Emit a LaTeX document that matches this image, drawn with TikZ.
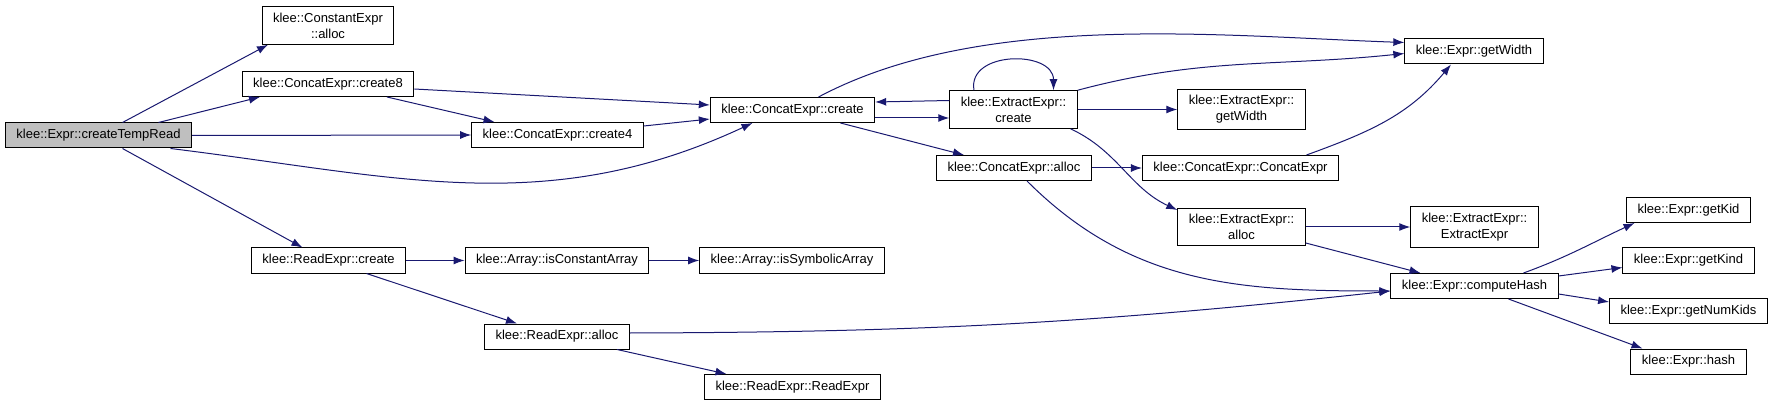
\documentclass[tikz,border=0pt]{standalone}
\usepackage{fontspec}
\setmainfont{Liberation Sans}
\usetikzlibrary{arrows.meta}
\definecolor{edgeblue}{HTML}{191970}
\definecolor{rootgray}{HTML}{BFBFBF}
\tikzset{
        func/.style = {draw, rectangle, line width=1pt, align=center,
            font=\fontsize{13}{16}\selectfont,
            inner xsep=11pt, inner ysep=6pt,
            minimum height=25pt},
        root/.style = {func, fill=rootgray},
        call/.style = {draw=edgeblue, line width=1pt,
            -{Latex[length=11pt,width=8pt]}},
}
\begin{document}
\begin{tikzpicture}[x=1pt, y=-1pt]
\useasboundingbox (0,0) rectangle (1775,406);
\node [root] (tmp) at (98.5,135.5) {klee::Expr::createTempRead};
\node [func] (cnstalloc) at (328,25.5) {klee::ConstantExpr\\::alloc};
\node [func] (create8) at (328,84) {klee::ConcatExpr::create8};
\node [func] (create4) at (557.5,135) {klee::ConcatExpr::create4};
\node [func] (create) at (792.5,110) {klee::ConcatExpr::create};
\node [func] (extcreate) at (1013.5,109.5) {klee::ExtractExpr::\\create};
\node [func] (catalloc) at (1014,168) {klee::ConcatExpr::alloc};
\node [func] (catctor) at (1240.5,168) {klee::ConcatExpr::ConcatExpr};
\node [func] (extwidth) at (1241.5,109.5) {klee::ExtractExpr::\\getWidth};
\node [func] (getwidth) at (1474,51.5) {klee::Expr::getWidth};
\node [func] (extalloc) at (1241.5,227) {klee::ExtractExpr::\\alloc};
\node [func] (extctor) at (1474.5,227) {klee::ExtractExpr::\\ExtractExpr};
\node [func] (hash) at (1474.5,286) {klee::Expr::computeHash};
\node [func] (getkid) at (1688.5,210) {klee::Expr::getKid};
\node [func] (getkind) at (1688.5,260.5) {klee::Expr::getKind};
\node [func] (numkids) at (1688.5,311) {klee::Expr::getNumKids};
\node [func] (hashfn) at (1688.5,361.5) {klee::Expr::hash};
\node [func] (rdcreate) at (328.5,260.5) {klee::ReadExpr::create};
\node [func] (isconst) at (557,260.5) {klee::Array::isConstantArray};
\node [func] (issym) at (792,260.5) {klee::Array::isSymbolicArray};
\node [func] (rdalloc) at (557,336.5) {klee::ReadExpr::alloc};
\node [func] (rdctor) at (792.5,387) {klee::ReadExpr::ReadExpr};
\draw [call] ([xshift=24pt]tmp.north) -- ([xshift=-60pt]cnstalloc.south);
\draw [call] ([xshift=60pt]tmp.north) -- ([xshift=-68pt]create8.south);
\draw [call] (tmp.east) -- (create4.west);
\draw [call] ([xshift=72pt]tmp.south) to[out=-7, in=205] ([xshift=-40pt]create.south);
\draw [call] ([xshift=24pt]tmp.south) -- ([xshift=-26pt]rdcreate.north);
\draw [call] ([yshift=-5pt]create8.east) -- ([yshift=5pt]create.west);
\draw [call] ([xshift=59pt]create8.south) -- ([xshift=-63pt]create4.north);
\draw [call] ([yshift=9pt]create4.east) -- ([yshift=-9pt]create.west);
\draw [call] ([yshift=-8pt]create.east) -- ([yshift=-8.5pt]extcreate.west);
\draw [call] ([yshift=9pt]extcreate.west) -- ([yshift=8pt]create.east);
\draw [call] ([xshift=-39.5pt]extcreate.north) to[out=100, in=90, looseness=1.3] ([xshift=40pt]extcreate.north);
\draw [call] ([xshift=26pt]create.north) to[out=28, in=178, looseness=0.8] ([yshift=9pt]getwidth.west);
\draw [call] (extcreate.north east) to[out=15, in=186] ([yshift=-2pt]getwidth.west);
\draw [call] (extcreate.east) -- (extwidth.west);
\draw [call] ([xshift=57pt]extcreate.south) to[out=-25, in=155] ([yshift=17pt]extalloc.west);
\draw [call] ([xshift=48pt]create.south) -- ([xshift=-50pt]catalloc.north);
\draw [call] (catalloc.east) -- (catctor.west);
\draw [call] ([xshift=13pt]catalloc.south) to[out=-45, in=180] ([yshift=-5pt]hash.west);
\draw [call] ([xshift=66pt]catctor.north) to[out=20, in=-130] ([xshift=-23pt]getwidth.south);
\draw [call] (extalloc.east) -- (extctor.west);
\draw [call] ([yshift=-16pt]extalloc.east) -- ([xshift=-54pt]hash.north);
\draw [call] ([xshift=49pt]hash.north) to[out=20, in=-155] ([xshift=-54pt]getkid.south);
\draw [call] ([yshift=10pt]hash.east) -- ([yshift=-7pt]getkind.west);
\draw [call] ([yshift=-8pt]hash.east) -- ([yshift=9pt]numkids.west);
\draw [call] ([xshift=34pt]hash.south) -- ([xshift=-46pt]hashfn.north);
\draw [call] (rdcreate.east) -- (isconst.west);
\draw [call] ([xshift=38pt]rdcreate.south) -- ([xshift=-40pt]rdalloc.north);
\draw [call] (isconst.east) -- (issym.west);
\draw [call] ([yshift=3.5pt]rdalloc.east) to[bend right=3] ([yshift=-5pt]hash.west);
\draw [call] ([xshift=60pt]rdalloc.south) -- ([xshift=-66pt]rdctor.north);
\end{tikzpicture}
\end{document}
